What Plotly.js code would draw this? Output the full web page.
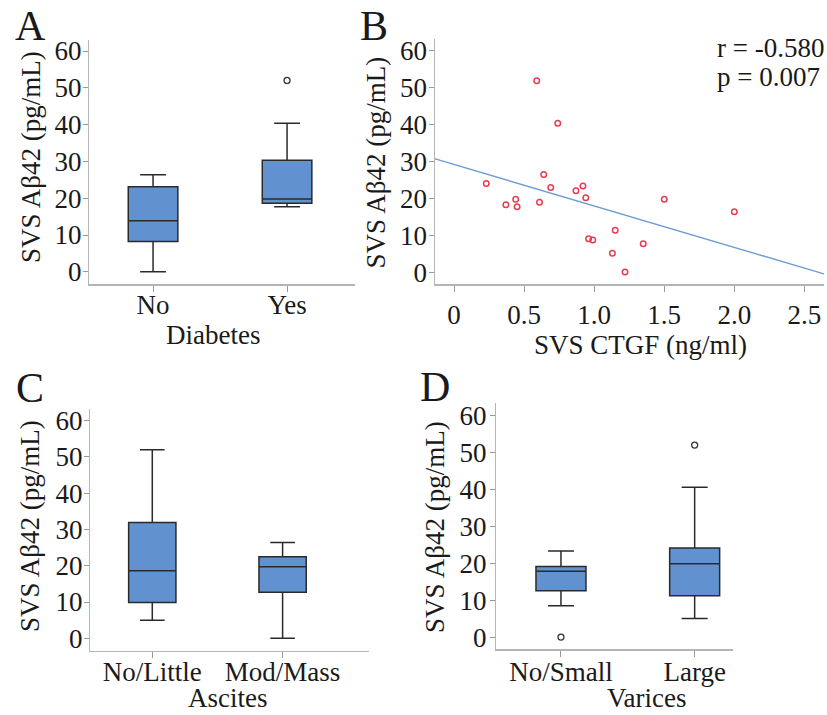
<!DOCTYPE html>
<html>
<head>
<meta charset="utf-8">
<script src="https://cdn.plot.ly/plotly-3.0.1.min.js"></script>
<style>html,body{margin:0;padding:0;background:#fff;}#chart{width:827px;height:715px;}</style>
</head>
<body>
<div id="chart"></div>
<script>
// ---- Data ----
// Panel A: Diabetes
const diabetesCats = ['No', 'Yes'];
const diabetesQ1 = [8.2, 18.6];
const diabetesMedian = [13.9, 19.8];
const diabetesQ3 = [23.1, 30.3];
const diabetesLower = [0, 17.7];
const diabetesUpper = [26.4, 40.4];
const diabetesOutX = ['Yes'];
const diabetesOutY = [52.0];

// Panel B: scatter SVS CTGF vs SVS Aβ42
const ctgf = [0.23, 0.37, 0.44, 0.45, 0.59, 0.61, 0.64, 0.69, 0.74, 0.87, 0.92, 0.94, 0.96, 0.99, 1.13, 1.15, 1.22, 1.35, 1.50, 2.00];
const abeta = [24.0, 18.2, 19.7, 17.7, 51.8, 18.9, 26.4, 22.9, 40.3, 22.0, 23.3, 20.1, 9.0, 8.7, 5.1, 11.3, 0.0, 7.7, 19.7, 16.3];
const fitX = [-0.14, 2.64];
const fitY = [30.7, -0.5];
const ctgfTickVals = [0, 0.5, 1.0, 1.5, 2.0, 2.5];
const ctgfTickText = ['0', '0.5', '1.0', '1.5', '2.0', '2.5'];
const statText = ['r = -0.580', 'p = 0.007'];

// Panel C: Ascites
const ascitesCats = ['No/Little', 'Mod/Mass'];
const ascitesQ1 = [9.9, 12.7];
const ascitesMedian = [18.6, 19.7];
const ascitesQ3 = [31.9, 22.5];
const ascitesLower = [5.0, 0];
const ascitesUpper = [52.0, 26.4];

// Panel D: Varices
const varicesCats = ['No/Small', 'Large'];
const varicesQ1 = [12.5, 11.2];
const varicesMedian = [17.8, 19.8];
const varicesQ3 = [19.1, 24.1];
const varicesLower = [8.5, 5.05];
const varicesUpper = [23.3, 40.5];
const varicesOutX = ['No/Small', 'Large'];
const varicesOutY = [0, 51.9];

const yTickVals = [0, 10, 20, 30, 40, 50, 60];
const yTitle = 'SVS Aβ42 (pg/mL)';

// ---- Styles ----
const FONT = '"Liberation Serif", "Times New Roman", serif';
const TXT = '#1a1a1a';
const BOXFILL = '#6192cf';
const BOXLINE = '#2a2a2a';
const FS = 27;
const W = 827, H = 715;
const px = v => v / W;
const py = v => 1 - v / H;

function boxTrace(cats, q1, med, q3, lo, hi, xa, ya, width) {
  return {
    type: 'box', x: cats, q1: q1, median: med, q3: q3,
    lowerfence: lo, upperfence: hi,
    xaxis: xa, yaxis: ya, width: width, whiskerwidth: 0.52,
    fillcolor: BOXFILL, line: {color: BOXLINE, width: 1.5},
    boxpoints: false, showlegend: false, hoverinfo: 'skip'
  };
}
function outTrace(xs, ys, xa, ya) {
  return {
    type: 'scatter', mode: 'markers', x: xs, y: ys, xaxis: xa, yaxis: ya,
    marker: {symbol: 'circle-open', size: 6, color: '#333', line: {width: 1.3}},
    showlegend: false, hoverinfo: 'skip'
  };
}

const data = [
  boxTrace(diabetesCats, diabetesQ1, diabetesMedian, diabetesQ3, diabetesLower, diabetesUpper, 'x', 'y', 0.37),
  outTrace(diabetesOutX, diabetesOutY, 'x', 'y'),
  {
    type: 'scatter', mode: 'lines', x: fitX, y: fitY, xaxis: 'x2', yaxis: 'y2',
    line: {color: '#6c9bd8', width: 1.4}, showlegend: false, hoverinfo: 'skip'
  },
  {
    type: 'scatter', mode: 'markers', x: ctgf, y: abeta, xaxis: 'x2', yaxis: 'y2',
    marker: {symbol: 'circle-open', size: 5.5, color: '#e63e50', line: {width: 1.5}},
    showlegend: false, hoverinfo: 'skip'
  },
  boxTrace(ascitesCats, ascitesQ1, ascitesMedian, ascitesQ3, ascitesLower, ascitesUpper, 'x3', 'y3', 0.363),
  boxTrace(varicesCats, varicesQ1, varicesMedian, varicesQ3, varicesLower, varicesUpper, 'x4', 'y4', 0.374),
  outTrace(varicesOutX, varicesOutY, 'x4', 'y4')
];

const tickFont = {family: FONT, size: FS, color: TXT};
function xAxis(dom, range, anchor, standoff, extra) {
  return Object.assign({
    domain: dom, range: range, anchor: anchor,
    showline: true, linecolor: '#b5b5b5', linewidth: 1.2,
    ticks: 'outside', ticklen: 6, tickcolor: '#999', tickwidth: 1,
    ticklabelstandoff: standoff,
    showgrid: false, zeroline: false, tickfont: tickFont, fixedrange: true
  }, extra || {});
}
function yAxis(dom, range, anchor, standoff) {
  return {
    domain: dom, range: range, anchor: anchor,
    showline: true, linecolor: '#b5b5b5', linewidth: 1.2,
    ticks: 'outside', ticklen: 5, tickcolor: '#999', tickwidth: 1,
    ticklabelstandoff: standoff,
    tickvals: yTickVals, showgrid: false, zeroline: false,
    tickfont: tickFont, fixedrange: true
  };
}

function ann(text, x, y, size, opts) {
  return Object.assign({
    text: text, xref: 'paper', yref: 'paper', x: px(x), y: py(y),
    xanchor: 'center', yanchor: 'middle', showarrow: false, borderpad: 0,
    font: {family: FONT, size: size, color: TXT}
  }, opts || {});
}

const layout = {
  width: W, height: H,
  margin: {l: 0, r: 0, t: 0, b: 0},
  paper_bgcolor: '#fff', plot_bgcolor: '#fff',
  showlegend: false,
  xaxis: xAxis([px(89), px(355)], [-0.478, 1.507], 'y', -10, {type: 'category'}),
  yaxis: yAxis([py(284.3), py(40)], [-3.4, 63], 'x', -4),
  xaxis2: xAxis([px(434.7), px(824)], [-0.138, 2.64], 'y2', 0, {tickvals: ctgfTickVals, ticktext: ctgfTickText}),
  yaxis2: yAxis([py(284.3), py(39.3)], [-3.3, 63], 'x2', -4),
  xaxis3: xAxis([px(90), px(369)], [-0.478, 1.663], 'y3', -10, {type: 'category'}),
  yaxis3: yAxis([py(651), py(409)], [-3.5, 63.2], 'x3', -4),
  xaxis4: xAxis([px(496), px(733.3)], [-0.486, 1.289], 'y4', -8, {type: 'category'}),
  yaxis4: yAxis([py(649.3), py(403.3)], [-3.3, 63.2], 'x4', -2),
  annotations: [
    ann('A', 30, 26, 42),
    ann('B', 374, 26, 42),
    ann('C', 30, 388, 42),
    ann('D', 435, 387, 42),
    ann(yTitle, 31, 157, FS, {textangle: -90}),
    ann(yTitle, 375.5, 163, FS, {textangle: -90}),
    ann(yTitle, 30, 526, FS, {textangle: -90}),
    ann(yTitle, 435, 527, FS, {textangle: -90}),
    ann('Diabetes', 213, 335, FS),
    ann('SVS CTGF (ng/ml)', 640, 345, FS),
    ann('Ascites', 227.5, 698, FS),
    ann('Varices', 646, 698, FS),
    ann(statText[0], 715.7, 48, FS, {xanchor: 'left'}),
    ann(statText[1], 715.7, 77, FS, {xanchor: 'left'})
  ]
};

Plotly.newPlot('chart', data, layout, {staticPlot: true, displayModeBar: false});
</script>
</body>
</html>
